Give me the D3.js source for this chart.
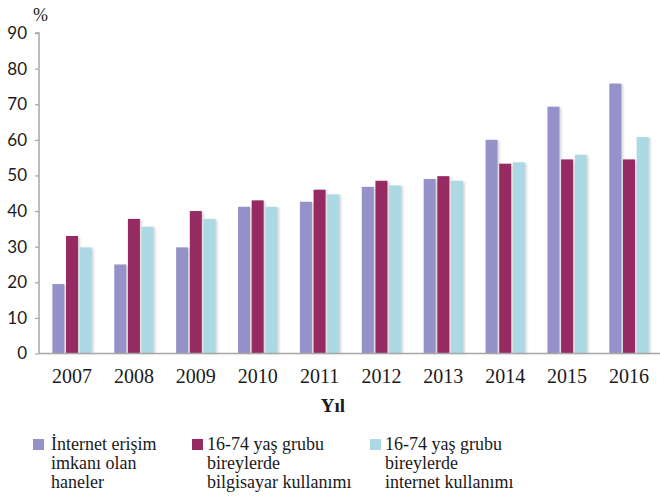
<!DOCTYPE html>
<html>
<head>
<meta charset="utf-8">
<script src="https://cdn.jsdelivr.net/npm/d3@7"></script>
<style>
  html, body { margin: 0; padding: 0; background: #fff; }
  svg { display: block; }
</style>
</head>
<body>
<svg id="chart" width="660" height="501"></svg>
<script>
// Years shown on the horizontal axis
const years = ["2007", "2008", "2009", "2010", "2011", "2012", "2013", "2014", "2015", "2016"];

// Share (%) of households with internet access
const householdsAccess = [19.5, 25, 29.8, 41.2, 42.6, 46.8, 49, 60, 69.3, 75.8];
// Share (%) of individuals aged 16-74 using a computer
const computerUse = [33, 37.8, 40, 43, 46, 48.5, 49.8, 53.3, 54.5, 54.5];
// Share (%) of individuals aged 16-74 using the internet
const internetUse = [29.8, 35.6, 37.8, 41.2, 44.7, 47.2, 48.5, 53.7, 55.8, 60.8];

// Y axis tick values
const yTicks = [0, 10, 20, 30, 40, 50, 60, 70, 80, 90];

const seriesNames = ["İnternet erişim imkanı olan haneler",
                     "16-74 yaş grubu bireylerde bilgisayar kullanımı",
                     "16-74 yaş grubu bireylerde internet kullanımı"];
const legendLines = [["İnternet erişim", "imkanı olan", "haneler"],
                     ["16-74 yaş grubu", "bireylerde", "bilgisayar kullanımı"],
                     ["16-74 yaş grubu", "bireylerde", "internet kullanımı"]];
const colors = ["#9591c9", "#952b62", "#acd9e3"];

const seriesValues = [householdsAccess, computerUse, internetUse];

const svg = d3.select("#chart");

const plotLeft = 39, plotRight = 660, plotTop = 33, plotBottom = 353.5;

const x0 = d3.scaleBand().domain(years).range([40, 661]).paddingInner(0.365).paddingOuter(0.2);
const x1 = d3.scaleBand().domain(d3.range(seriesNames.length)).range([0, x0.bandwidth()]).paddingInner(0.12).paddingOuter(0);
const y = d3.scaleLinear().domain([0, 90]).range([plotBottom, plotTop]);

const defs = svg.append("defs");
defs.append("filter").attr("id", "soft").attr("x", "-50%").attr("y", "-10%").attr("width", "200%").attr("height", "120%")
  .append("feGaussianBlur").attr("stdDeviation", 1.2);

// Bars, grouped by year
const groups = svg.append("g").selectAll("g")
  .data(years)
  .join("g")
  .attr("transform", d => `translate(${x0(d)},0)`);

const barData = (year, i) => seriesValues.map((vals, s) => ({ s, v: vals[i] }));

// faint drop shadows on the right edge of each bar
groups.selectAll("rect.shadow")
  .data(barData)
  .join("rect")
  .attr("class", "shadow")
  .attr("x", d => x1(d.s) + 2)
  .attr("y", d => y(d.v) + 1)
  .attr("width", x1.bandwidth())
  .attr("height", d => plotBottom - y(d.v) - 1)
  .attr("fill", "#d8d8d8")
  .attr("filter", "url(#soft)");

groups.selectAll("rect.bar")
  .data(barData)
  .join("rect")
  .attr("class", "bar")
  .attr("x", d => x1(d.s))
  .attr("y", d => y(d.v))
  .attr("width", x1.bandwidth())
  .attr("height", d => plotBottom - y(d.v))
  .attr("fill", d => colors[d.s]);

// Y axis
const yAxis = svg.append("g")
  .attr("transform", `translate(${plotLeft},0)`)
  .call(d3.axisLeft(y).tickValues(yTicks).tickSize(4).tickPadding(8));
yAxis.select(".domain").attr("stroke", "#a6a6a6").attr("stroke-width", 1.5).attr("d", `M-4,${plotTop}H0V${plotBottom}`);
yAxis.selectAll(".tick line").attr("stroke", "#a6a6a6").attr("stroke-width", 1.2);
yAxis.selectAll(".tick text")
  .attr("fill", "#1a1a1a")
  .style("font-family", "Lato, 'Open Sans', sans-serif")
  .style("font-size", "17px");

// X axis (baseline and year labels)
const xAxis = svg.append("g")
  .attr("transform", `translate(0,${plotBottom})`)
  .call(d3.axisBottom(x0).tickSize(0).tickPadding(15));
xAxis.select(".domain").attr("stroke", "#a6a6a6").attr("stroke-width", 1.5).attr("d", `M${plotLeft},0H${plotRight}`);
xAxis.selectAll(".tick text")
  .attr("fill", "#1a1a1a")
  .style("font-family", "'Liberation Serif', 'Times New Roman', serif")
  .style("font-size", "20px");

// Unit label above the y axis
svg.append("text")
  .attr("x", 33).attr("y", 21)
  .attr("fill", "#1a1a1a")
  .style("font-family", "'Liberation Serif', serif")
  .style("font-size", "18px")
  .text("%");

// Axis title
svg.append("text")
  .attr("x", 333).attr("y", 412)
  .attr("text-anchor", "middle")
  .attr("fill", "#1a1a1a")
  .style("font-family", "'Liberation Serif', serif")
  .style("font-weight", "bold")
  .style("font-size", "19px")
  .text("Yıl");

// Legend: a swatch and a three-line label per series
const legendX = [33, 192, 370];
const legendTextOffset = [18, 15, 15];
const legend = svg.append("g").selectAll("g")
  .data(seriesNames)
  .join("g")
  .attr("transform", (d, i) => `translate(${legendX[i]},0)`);

legend.append("rect")
  .attr("x", 0).attr("y", 439)
  .attr("width", 11).attr("height", 11)
  .attr("fill", (d, i) => colors[i]);

legend.append("text")
  .attr("fill", "#1a1a1a")
  .style("font-family", "'Liberation Serif', serif")
  .style("font-size", "18px")
  .each(function(d, i) {
    d3.select(this).selectAll("tspan")
      .data(legendLines[i])
      .join("tspan")
      .attr("x", legendTextOffset[i])
      .attr("y", (line, j) => 450 + j * 19)
      .text(line => line);
  });
</script>
</body>
</html>
